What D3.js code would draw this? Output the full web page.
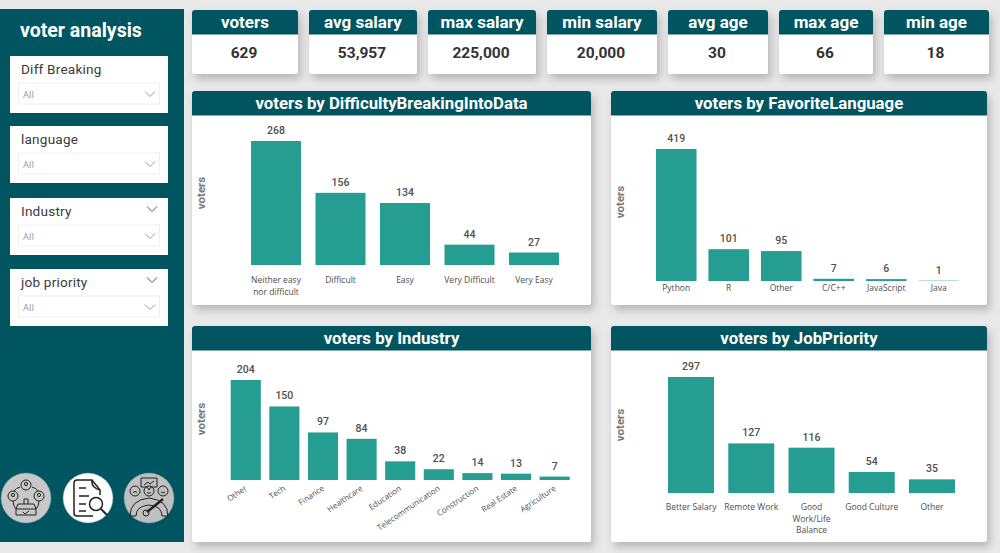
<!DOCTYPE html>
<html>
<head>
<meta charset="utf-8">
<script src="https://cdn.jsdelivr.net/npm/d3@7"></script>
<style>
  html, body { margin: 0; padding: 0; background: #e8e9e8; overflow: hidden; }
  svg { display: block; }
  text { font-family: Roboto, sans-serif; }
  .tick text { font-family: "Open Sans", sans-serif; font-size: 8.5px; fill: #4d4d4d; }
</style>
</head>
<body>
<script>
  var kpiNames = ['voters', 'avg salary', 'max salary', 'min salary', 'avg age', 'max age', 'min age'];
  var kpiValues = ['629', '53,957', '225,000', '20,000', '30', '66', '18'];

  var slicerNames = ['Diff Breaking', 'language', 'Industry', 'job priority'];

  var difficultyCats = ['Neither easy nor difficult', 'Difficult', 'Easy', 'Very Difficult', 'Very Easy'];
  var difficultyVals = [268, 156, 134, 44, 27];

  var languageCats = ['Python', 'R', 'Other', 'C/C++', 'JavaScript', 'Java'];
  var languageVals = [419, 101, 95, 7, 6, 1];

  var industryCats = ['Other', 'Tech', 'Finance', 'Healthcare', 'Education', 'Telecommunication', 'Construction', 'Real Estate', 'Agriculture'];
  var industryVals = [204, 150, 97, 84, 38, 22, 14, 13, 7];

  var priorityCats = ['Better Salary', 'Remote Work', 'Good Work/Life Balance', 'Good Culture', 'Other'];
  var priorityVals = [297, 127, 116, 54, 35];

  var DARK = '#005561', BAR = '#259e91', INK = '#4f4f4f';

  var svg = d3.select('body').append('svg')
      .attr('width', 1000)
      .attr('height', 553);

  var shadow = svg.append('defs').append('filter')
      .attr('id', 'shadow')
      .attr('x', '-10%').attr('y', '-10%')
      .attr('width', '125%').attr('height', '130%');
  shadow.append('feDropShadow')
      .attr('dx', 3).attr('dy', 5)
      .attr('stdDeviation', 4)
      .attr('flood-color', '#000')
      .attr('flood-opacity', 0.22);

  // header card used by the kpis and the charts
  function card(x, y, w, h, headH, title, size) {
    svg.append('rect')
        .attr('x', x).attr('y', y).attr('width', w).attr('height', h)
        .attr('rx', 3).attr('fill', '#fff')
        .attr('filter', 'url(#shadow)');
    svg.append('path')
        .attr('d', 'M' + x + ',' + (y + headH) + 'V' + (y + 3) + 'q0,-3 3,-3H' + (x + w - 3) + 'q3,0 3,3V' + (y + headH) + 'Z')
        .attr('fill', DARK);
    svg.append('text')
        .attr('x', x + w / 2).attr('y', y + headH / 2 + size * 0.36)
        .attr('text-anchor', 'middle')
        .attr('font-size', size).attr('font-weight', 700)
        .attr('fill', '#fff')
        .text(title);
  }

  // sidebar
  svg.append('rect')
      .attr('x', 0).attr('y', 9).attr('width', 184).attr('height', 533)
      .attr('fill', DARK);
  svg.append('text')
      .attr('x', 20).attr('y', 36.5)
      .attr('font-size', 19.5).attr('font-weight', 700)
      .attr('fill', '#fff')
      .text('voter analysis');

  var slicerTops = [56, 126, 198, 269];

  function chevron(x, y, color) {
    svg.append('path')
        .attr('d', 'M' + (x - 5) + ',' + (y - 2.5) + 'L' + x + ',' + (y + 2.5) + 'L' + (x + 5) + ',' + (y - 2.5))
        .attr('fill', 'none').attr('stroke', color).attr('stroke-width', 1);
  }

  slicerNames.forEach(function (name, i) {
    var y = slicerTops[i];
    svg.append('rect')
        .attr('x', 10).attr('y', y).attr('width', 158).attr('height', 57)
        .attr('fill', '#fff');
    svg.append('text')
        .attr('x', 21).attr('y', y + 17.5)
        .attr('font-size', 13.6).attr('letter-spacing', 0.2)
        .attr('fill', '#3c3c3c')
        .text(name);
    svg.append('rect')
        .attr('x', 18.5).attr('y', y + 27).attr('width', 141).attr('height', 21)
        .attr('fill', '#fff').attr('stroke', '#efefef');
    svg.append('text')
        .attr('x', 23).attr('y', y + 42)
        .style('font-family', '"Open Sans", sans-serif')
        .attr('font-size', 9.5)
        .attr('fill', '#999')
        .text('All');
    chevron(150, y + 38, '#999');
    if (i >= 2) chevron(152, y + 11, '#555');
  });

  // kpi cards
  var kpiX = [192, 309, 428, 547, 668, 779, 884];
  var kpiW = [106, 108, 108, 110, 100, 94, 105];
  kpiNames.forEach(function (name, i) {
    card(kpiX[i], 10, kpiW[i], 64, 24.5, name, 17);
    svg.append('text')
        .attr('x', kpiX[i] + kpiW[i] / 2 - 1).attr('y', 57.5)
        .attr('text-anchor', 'middle')
        .attr('font-size', 15.5).attr('font-weight', 700)
        .attr('fill', '#333')
        .text(kpiValues[i]);
  });

  // wrap long category labels to a fixed width
  function wrap(selection, width) {
    selection.each(function () {
      var label = d3.select(this);
      var words = label.text().split(' ');
      var y = label.attr('y');
      var dy = parseFloat(label.attr('dy'));
      var line = [];
      var n = 0;
      var tspan = label.text(null).append('tspan').attr('x', 0).attr('y', y).attr('dy', dy + 'em');
      words.forEach(function (word) {
        line.push(word);
        tspan.text(line.join(' '));
        if (tspan.node().getComputedTextLength() > width && line.length > 1) {
          line.pop();
          tspan.text(line.join(' '));
          line = [word];
          n++;
          tspan = label.append('tspan')
              .attr('x', 0).attr('y', y)
              .attr('dy', (n * 1.35 + dy) + 'em')
              .text(word);
        }
      });
    });
  }

  function barChart(o) {
    card(o.x, o.y, o.w, o.h, 24.5, o.title, 16.8);

    var xScale = d3.scaleBand()
        .domain(o.cats)
        .range(o.xRange)
        .padding(o.padding);
    var yScale = d3.scaleLinear()
        .domain([0, d3.max(o.vals)])
        .range(o.yRange);
    var rows = o.cats.map(function (c, i) { return {cat: c, val: o.vals[i]}; });

    svg.selectAll(null)
        .data(rows)
        .enter()
      .append('rect')
        .attr('x', function (d) { return xScale(d.cat); })
        .attr('y', function (d) { return yScale(d.val); })
        .attr('width', xScale.bandwidth())
        .attr('height', function (d) { return o.yRange[0] - yScale(d.val); })
        .attr('fill', BAR);

    svg.selectAll(null)
        .data(rows)
        .enter()
      .append('text')
        .attr('x', function (d) { return xScale(d.cat) + xScale.bandwidth() / 2; })
        .attr('y', function (d) { return yScale(d.val) - 7; })
        .attr('text-anchor', 'middle')
        .attr('font-size', 10.5).attr('font-weight', 500)
        .attr('fill', INK)
        .text(function (d) { return d.val; });

    var axis = svg.append('g')
        .attr('transform', 'translate(0,' + o.yRange[0] + ')')
        .call(d3.axisBottom(xScale).tickSize(0).tickPadding(o.tickPad));
    axis.select('.domain').remove();
    if (o.rotate) {
      axis.selectAll('.tick text')
          .style('font-size', '8px')
          .attr('text-anchor', 'end')
          .attr('dy', '0.5em')
          .attr('dx', '-0.5em')
          .attr('transform', 'rotate(-34)');
    } else {
      axis.selectAll('.tick text').call(wrap, 57);
    }

    svg.append('text')
        .attr('transform', 'translate(' + o.labelX + ',' + o.labelY + ') rotate(-90)')
        .attr('text-anchor', 'middle')
        .attr('font-size', 11.5).attr('font-weight', 700)
        .attr('fill', '#777')
        .text('voters');
  }

  barChart({title: 'voters by DifficultyBreakingIntoData', cats: difficultyCats, vals: difficultyVals,
    x: 192, y: 91, w: 399, h: 214, xRange: [236.5, 573.5], yRange: [265, 141], padding: 0.225, tickPad: 12, labelX: 205, labelY: 193});
  barChart({title: 'voters by FavoriteLanguage', cats: languageCats, vals: languageVals,
    x: 611, y: 91, w: 376, h: 214, xRange: [644, 971], yRange: [281, 149], padding: 0.227, tickPad: 4, labelX: 624, labelY: 202});
  barChart({title: 'voters by Industry', cats: industryCats, vals: industryVals,
    x: 192, y: 326, w: 399, h: 216, xRange: [222.2, 578.2], yRange: [480, 380], padding: 0.22, tickPad: 5, rotate: true, labelX: 205, labelY: 419});
  barChart({title: 'voters by JobPriority', cats: priorityCats, vals: priorityVals,
    x: 611, y: 326, w: 376, h: 216, xRange: [653.8, 969.2], yRange: [493, 377], padding: 0.236, tickPad: 11, labelX: 624, labelY: 425});

  // round icons in the sidebar
  function icon(cx, cy, fill, draw) {
    svg.append('circle')
        .attr('cx', cx).attr('cy', cy).attr('r', 25)
        .attr('fill', fill).attr('stroke', '#6f9bb0').attr('stroke-width', 0.5);
    var g = svg.append('g')
        .attr('transform', 'translate(' + cx + ',' + cy + ')')
        .attr('fill', 'none').attr('stroke', '#222').attr('stroke-width', 1);
    draw(g);
  }

  icon(26, 498, '#c8c8c8', function (g) {
    [[0, -13], [-13, -2], [13, -2]].forEach(function (p) {
      g.append('circle').attr('cx', p[0]).attr('cy', p[1]).attr('r', 5);
      g.append('circle').attr('cx', p[0]).attr('cy', p[1] - 1).attr('r', 1.6);
    });
    g.append('path').attr('d', 'M-6,-11Q-10,-10 -12,-7M6,-11Q10,-10 12,-7M-13,3Q-13,8 -10,11M13,3Q13,8 10,11');
    g.append('path').attr('d', 'M-8,6H8L10,11V17H-10V11ZM-10,11H10M-2,6V1H2V6M-3,14L-1,16L3,13');
  });

  icon(88, 498, '#fff', function (g) {
    g.attr('stroke-width', 1.5);
    g.append('path').attr('d', 'M5,18H-11Q-14,18 -14,15V-15Q-14,-18 -11,-18H4L12,-8V-3M4,-18Q3,-10 12,-8');
    g.append('path').attr('d', 'M-9,-10H-2M-9,-2H1M-9,6H-2M-9,13H-2');
    g.append('circle').attr('cx', 8).attr('cy', 6).attr('r', 6.5);
    g.append('path').attr('d', 'M13,11L19,17').attr('stroke-width', 2);
  });

  icon(149, 498, '#c0c0c0', function (g) {
    g.append('path').attr('d', 'M-8,-20H8V-11H2L0,-8L-2,-11H-8ZM-5,-13L-1,-16L1,-14L5,-17');
    [[-14, -7], [0, -7], [14, -7]].forEach(function (p) {
      g.append('circle').attr('cx', p[0]).attr('cy', p[1]).attr('r', 5);
    });
    g.append('path').attr('d', 'M-16,-5.5Q-14,-7.5 -12,-5.5M-2,-5.5Q0,-4 2,-5.5M12,-6Q14,-4 16,-6');
    g.append('path').attr('d', 'M-19,18Q-19,2 0,0Q19,2 19,18H13Q13,8 0,7Q-13,8 -13,18Z');
    g.append('path').attr('d', 'M-2,14L14,1').attr('stroke-width', 2.5);
    g.append('circle').attr('cx', -3).attr('cy', 15).attr('r', 3);
  });
</script>
</body>
</html>
